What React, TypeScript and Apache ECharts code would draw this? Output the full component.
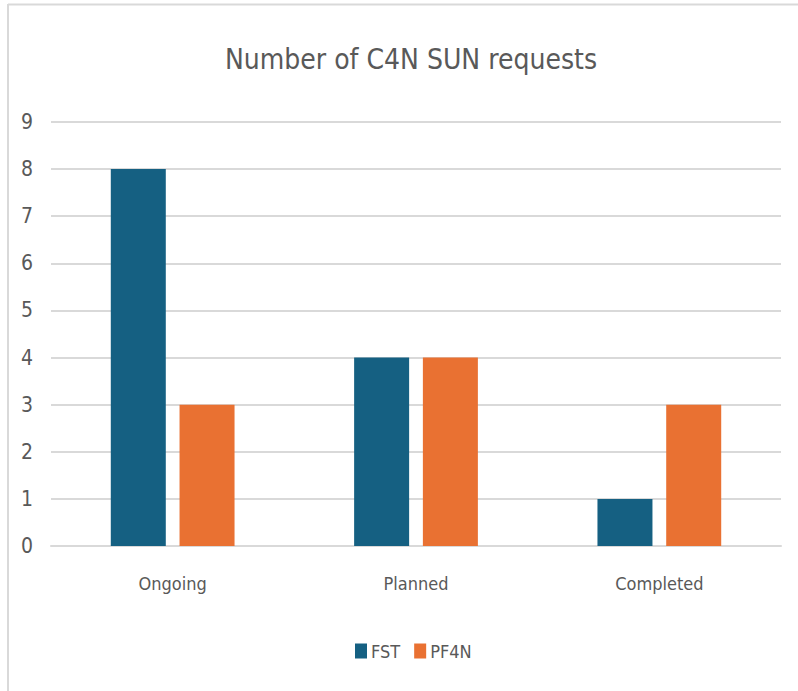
import React, { useEffect, useRef } from "react";
import * as echarts from "echarts";

const categories = ["Ongoing", "Planned", "Completed"];
const fstValues = [8, 4, 1];
const pf4nValues = [3, 4, 3];
const yTicks = [0, 1, 2, 3, 4, 5, 6, 7, 8, 9];

const FONT = "'Liberation Sans Narrow', 'DejaVu Sans Condensed', Roboto, sans-serif";

export default function App() {
  const ref = useRef<HTMLDivElement>(null);
  useEffect(() => {
    if (!ref.current) return;
    const chart = echarts.init(ref.current, undefined, { renderer: "svg" });
    chart.setOption({
      animation: false,
      backgroundColor: "#ffffff",
      textStyle: { fontFamily: FONT },
      title: {
        text: "Number of C4N SUN requests",
        left: 406,
        textAlign: "center",
        top: 40,
        textStyle: { fontFamily: FONT, fontSize: 28, fontWeight: "normal", color: "#595959" },
      },
      graphic: [
        { type: "line", shape: { x1: 8, y1: 4.5, x2: 798, y2: 4.5 }, style: { stroke: "#d9d9d9", lineWidth: 2 } },
        { type: "line", shape: { x1: 8, y1: 4, x2: 8, y2: 691 }, style: { stroke: "#d9d9d9", lineWidth: 2 } },
      ],
      legend: {
        left: 350,
        top: 637,
        icon: "rect",
        itemWidth: 12,
        itemHeight: 15,
        itemGap: 14,
        textStyle: { fontFamily: FONT, fontSize: 18, color: "#595959", padding: [0, 0, 0, -1] },
        data: ["FST", "PF4N"],
      },
      grid: { left: 51, right: 17, top: 122, bottom: 145, containLabel: false },
      xAxis: {
        type: "category",
        data: categories,
        axisLine: { show: true, lineStyle: { color: "#d9d9d9", width: 2 } },
        axisTick: { show: false },
        axisLabel: { margin: 28, fontFamily: FONT, fontSize: 18, color: "#595959" },
      },
      yAxis: {
        type: "value",
        min: yTicks[0],
        max: yTicks[yTicks.length - 1],
        interval: 1,
        axisLine: { show: false },
        axisTick: { show: false },
        splitLine: { lineStyle: { color: "#d9d9d9", width: 2 } },
        axisLabel: { margin: 18, fontFamily: FONT, fontSize: 21, color: "#595959" },
      },
      series: [
        { name: "FST", type: "bar", data: fstValues, barWidth: 55, barGap: "25%", itemStyle: { color: "#156082" } },
        { name: "PF4N", type: "bar", data: pf4nValues, barWidth: 55, itemStyle: { color: "#E97132" } },
      ],
    });
    return () => chart.dispose();
  }, []);
  return <div ref={ref} style={{ position: "fixed", left: 0, top: 0, width: 798, height: 691 }} />;
}
